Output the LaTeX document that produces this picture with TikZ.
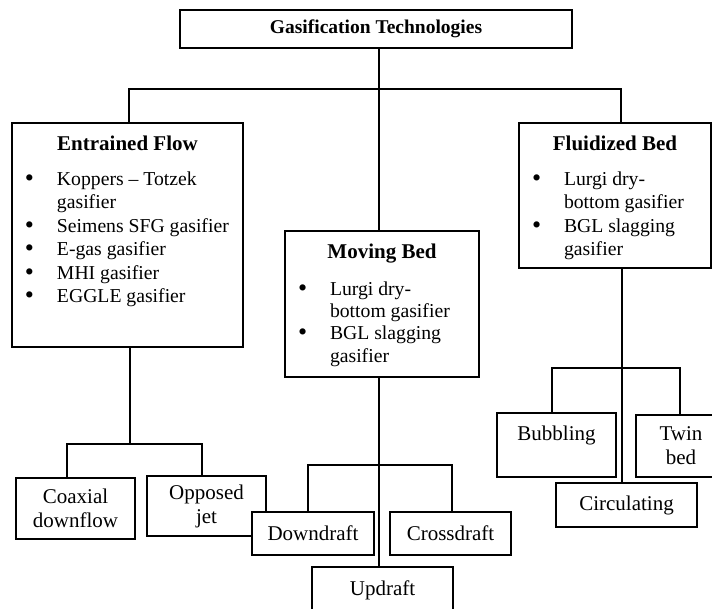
\documentclass[tikz,border=0pt]{standalone}
\usepackage{fontspec}
\setmainfont{Liberation Serif}
\usepackage{tikz}

% bullet line of a big box, second line hangs under the text
\newcommand{\bitem}[1]{\par\hangindent=45pt\hangafter=1\noindent\hspace*{13pt}\makebox[32pt][l]{\raisebox{-1pt}{\fontsize{26}{20}\selectfont\textbullet}}#1}
\newcommand{\boxhead}[2]{{\centering\fontsize{21}{25}\selectfont\bfseries\rule{0pt}{27pt}#1\par}\vspace{#2}}

\begin{document}
\begin{tikzpicture}[x=1pt,y=-1pt,line width=1.1pt,
    box/.style={draw,fill=white,inner sep=0pt},
    small/.style={box,align=center,font=\fontsize{21}{24}\selectfont}]
    \useasboundingbox (0,0) rectangle (712,608);
    \clip (0,0) rectangle (712,608);

    \node[box,minimum width=392pt,minimum height=38pt,font=\fontsize{19.5}{23}\selectfont\bfseries] (tech) at (376,29) {Gasification Technologies};

    % the three families
    \node[box] (entrained) at (127.5,235) {\begin{minipage}[t][224pt][t]{231pt}\raggedright\fontsize{19.7}{23.5}\selectfont
        \boxhead{Entrained Flow}{11.5pt}
        \bitem{Koppers -- Totzek\newline gasifier}
        \bitem{Seimens SFG gasifier}
        \bitem{E-gas gasifier}
        \bitem{MHI gasifier}
        \bitem{EGGLE gasifier}
    \end{minipage}};
    \node[box] (moving) at (382,304) {\begin{minipage}[t][146pt][t]{194pt}\raggedright\fontsize{19.7}{22.3}\selectfont
        \boxhead{Moving Bed}{15pt}
        \bitem{Lurgi dry-\newline bottom gasifier}
        \bitem{BGL slagging\newline gasifier}
    \end{minipage}};
    \node[box] (fluid) at (615,195.5) {\begin{minipage}[t][145pt][t]{192pt}\raggedright\fontsize{19.7}{23.5}\selectfont
        \boxhead{Fluidized Bed}{11.5pt}
        \bitem{Lurgi dry-\newline bottom gasifier}
        \bitem{BGL slagging\newline gasifier}
    \end{minipage}};

    % sub types
    \node[small,minimum width=119pt,minimum height=61pt] (coax) at (75.5,508.5) {Coaxial\\downflow};
    \node[small,minimum width=119pt,minimum height=60pt] (opp) at (206.5,506) {Opposed\\jet};
    \node[small,minimum width=122pt,minimum height=43pt] (down) at (313,533.5) {Downdraft};
    \node[small,minimum width=121pt,minimum height=43pt] (cross) at (450.5,533.5) {Crossdraft};
    \node[small,minimum width=141pt,minimum height=46pt] (up) at (382.5,590) {Updraft};
    \node[small,minimum width=119pt,minimum height=64pt] (bub) at (556.5,445) {Bubbling\\\mbox{}};
    \node[small,minimum width=90pt,minimum height=62pt] (twin) at (681,446) {Twin\\bed};
    \node[small,minimum width=141pt,minimum height=44pt] (circ) at (626.5,505) {Circulating};

    \coordinate (bar) at (379,89);
    \coordinate (ej) at (130,444);
    \coordinate (mj) at (379,465);
    \coordinate (fj) at (622,368);

    \draw (bar |- tech.south) -- (bar |- moving.north);
    \draw ([xshift=1.5pt]entrained.north) |- (bar) -| ([xshift=6pt]fluid.north);

    \draw (ej |- entrained.south) -- (ej);
    \draw ([xshift=-8.5pt]coax.north) |- (ej) -| ([xshift=-4.5pt]opp.north);

    \draw (mj |- moving.south) -- (mj |- up.north);
    \draw ([xshift=-5pt]down.north) |- (mj) -| ([xshift=1.5pt]cross.north);

    \draw (fj |- fluid.south) -- (fj |- circ.north);
    \draw ([xshift=-4.5pt]bub.north) |- (fj) -| ([xshift=-1pt]twin.north);
\end{tikzpicture}
\end{document}
